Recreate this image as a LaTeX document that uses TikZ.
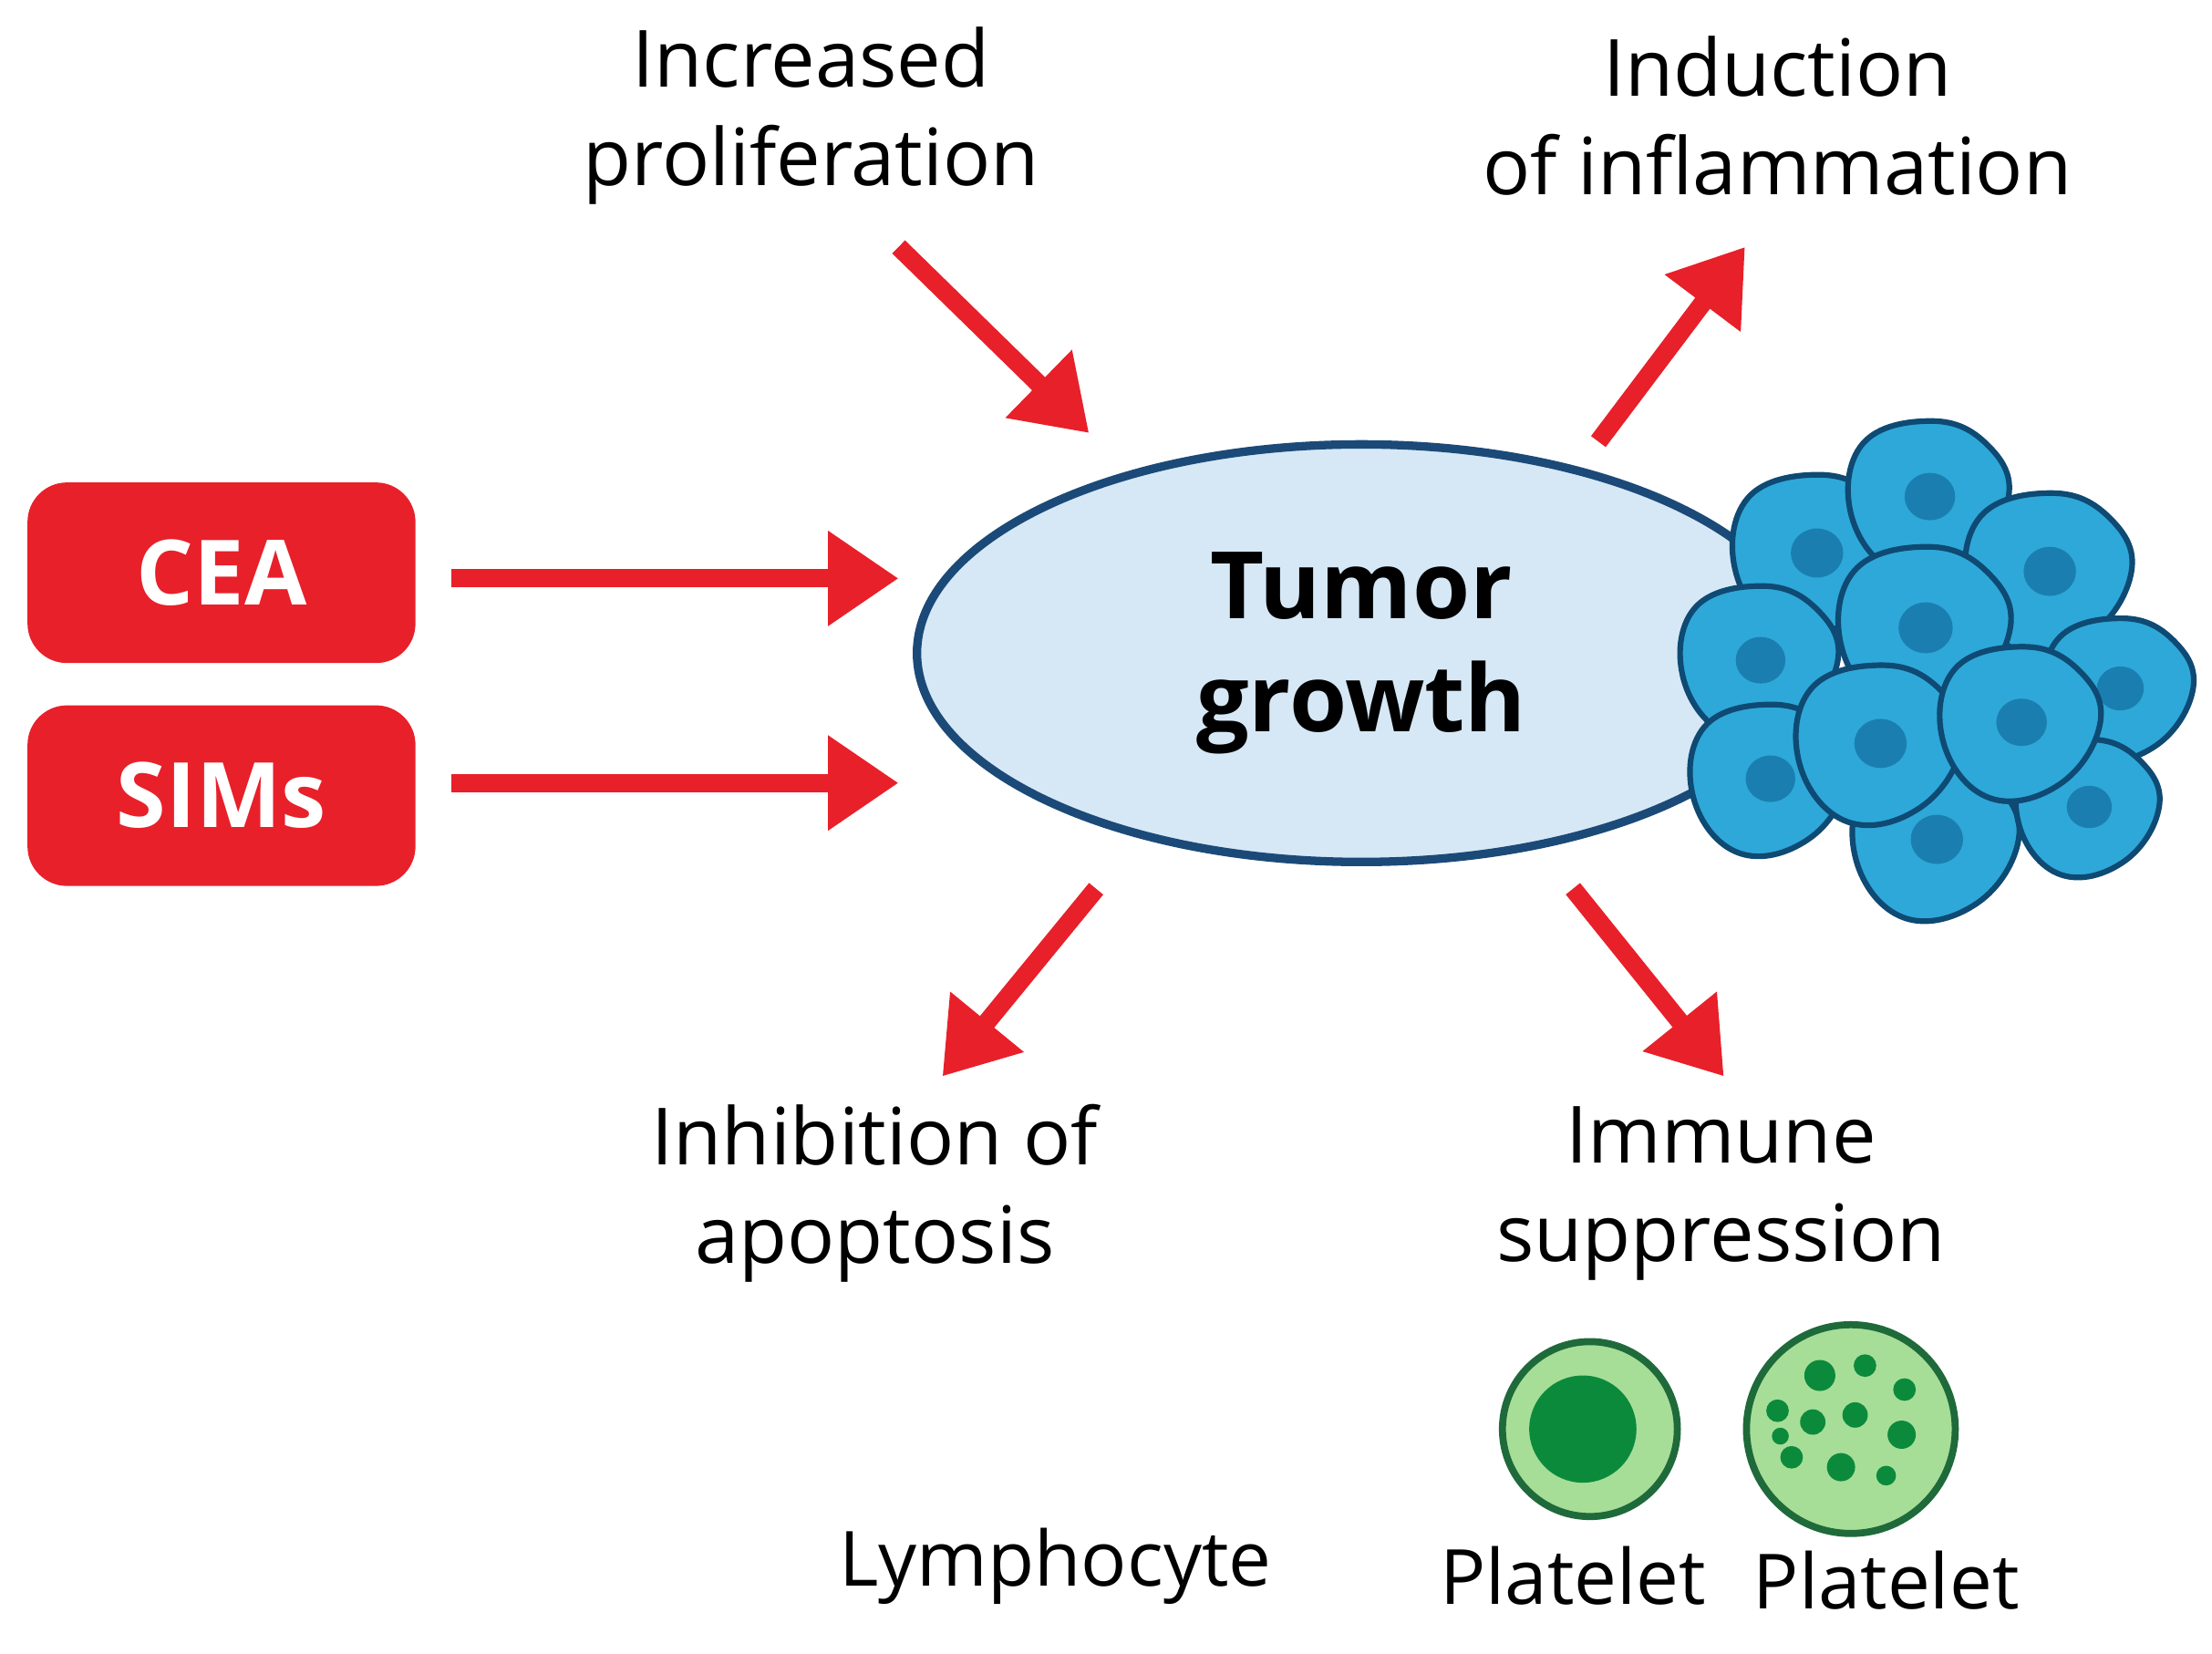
\documentclass[tikz,border=0pt]{standalone}
\usepackage{fontspec}
\setmainfont{Open Sans}
\usetikzlibrary{arrows.meta,shapes.geometric}
\definecolor{cred}{HTML}{E8202A}
\definecolor{ellfill}{HTML}{D6E8F5}
\definecolor{navy}{HTML}{1B4A78}
\definecolor{cellf}{HTML}{2EA8D8}
\definecolor{celle}{HTML}{0E4A73}
\definecolor{nuc}{HTML}{1A7FB0}
\definecolor{lgreen}{HTML}{A6DE98}
\definecolor{dgreen}{HTML}{1F6A3A}
\definecolor{mgreen}{HTML}{0C8A3C}
\tikzset{
 arr/.style={draw=cred,line width=13pt,-{Triangle[length=50pt,width=64pt]}},
 lab/.style={align=center,font=\fontsize{56}{70}\selectfont},
 redbox/.style={fill=cred,rounded corners=28pt,minimum width=275pt,minimum height=128pt,text=white,font=\fontsize{64}{70}\selectfont\bfseries},
 cell/.style={fill=cellf,draw=celle,line width=4pt}
}
\newcommand{\mycell}[3]{%
 \draw[cell] plot[smooth cycle,tension=0.7] coordinates{
 ($(#1,#2)+(0:#3*1.05)$) ($(#1,#2)+(55:#3*0.95)$) ($(#1,#2)+(110:#3*1.02)$)
 ($(#1,#2)+(165:#3*0.97)$) ($(#1,#2)+(220:#3*1.04)$) ($(#1,#2)+(275:#3*0.96)$) ($(#1,#2)+(320:#3*1.02)$)};
 \fill[nuc] (#1+3,#2) ellipse ({#3*0.32} and {#3*0.3});}
\usetikzlibrary{calc}
\begin{document}
\begin{tikzpicture}[x=1pt,y=-1pt]
\useasboundingbox[fill=white] (0,0) rectangle (1568,1172);
\node[redbox] (cea) at (157,406) {CEA};
\node[redbox] (sims) at (157,564) {SIMs};
\node[ellipse,draw=navy,fill=ellfill,line width=6pt,minimum width=630pt,minimum height=296pt,align=center,font=\fontsize{66}{80}\selectfont\bfseries] (tumor) at (965,463) {Tumor\\growth};
% cells
\mycell{1285}{392}{58}
\mycell{1365}{352}{56}
\mycell{1450}{405}{58}
\mycell{1500}{488}{52}
\mycell{1245}{468}{55}
\mycell{1362}{445}{60}
\mycell{1252}{552}{55}
\mycell{1370}{595}{58}
\mycell{1478}{572}{50}
\mycell{1330}{527}{58}
\mycell{1430}{512}{56}
\coordinate (ceaE) at (320,410); \coordinate (ceaT) at (637,410);
\coordinate (simE) at (320,555); \coordinate (simT) at (637,555);
\draw[arr] (ceaE) -- (ceaT);
\draw[arr] (simE) -- (simT);
\node[lab] (prol) at (575,82) {Increased\\proliferation};
\node[lab] (infl) at (1260,82) {Induction\\of inflammation};
\node[lab] (apop) at (620,846) {Inhibition of\\apoptosis};
\node[lab] (imm) at (1220,846) {Immune\\suppression};
\coordinate (p1) at (637,175); \coordinate (p2) at (772,307);
\coordinate (i1) at (1133,313); \coordinate (i2) at (1237,175);
\coordinate (a1) at (777,630); \coordinate (a2) at (668,763);
\coordinate (m1) at (1115,630); \coordinate (m2) at (1222,763);
\draw[arr] (p1) -- (p2);
\draw[arr] (i1) -- (i2);
\draw[arr] (a1) -- (a2);
\draw[arr] (m1) -- (m2);
% lymphocyte
\node[circle,fill=lgreen,draw=dgreen,line width=5pt,minimum size=124pt] (lym) at (1127,1013) {};
\fill[mgreen] (1122,1013) circle (38pt);
% platelet
\node[circle,fill=lgreen,draw=dgreen,line width=5pt,minimum size=148pt] (plt) at (1312,1013) {};
\foreach \x/\y/\r in {1290/975/11,1322/968/8,1350/985/8,1260/1000/8,1285/1008/9,1315/1003/9,1348/1017/10,1270/1033/8,1305/1040/10,1337/1046/7,1262/1018/6}
 \fill[mgreen] (\x,\y) circle (\r pt);
\node[font=\fontsize{54}{60}\selectfont] (l1) at (748,1110) {Lymphocyte};
\node[font=\fontsize{54}{60}\selectfont] (l2) at (1115,1117) {Platelet};
\node[font=\fontsize{54}{60}\selectfont] (l3) at (1337,1120) {Platelet};
\end{tikzpicture}
\end{document}
